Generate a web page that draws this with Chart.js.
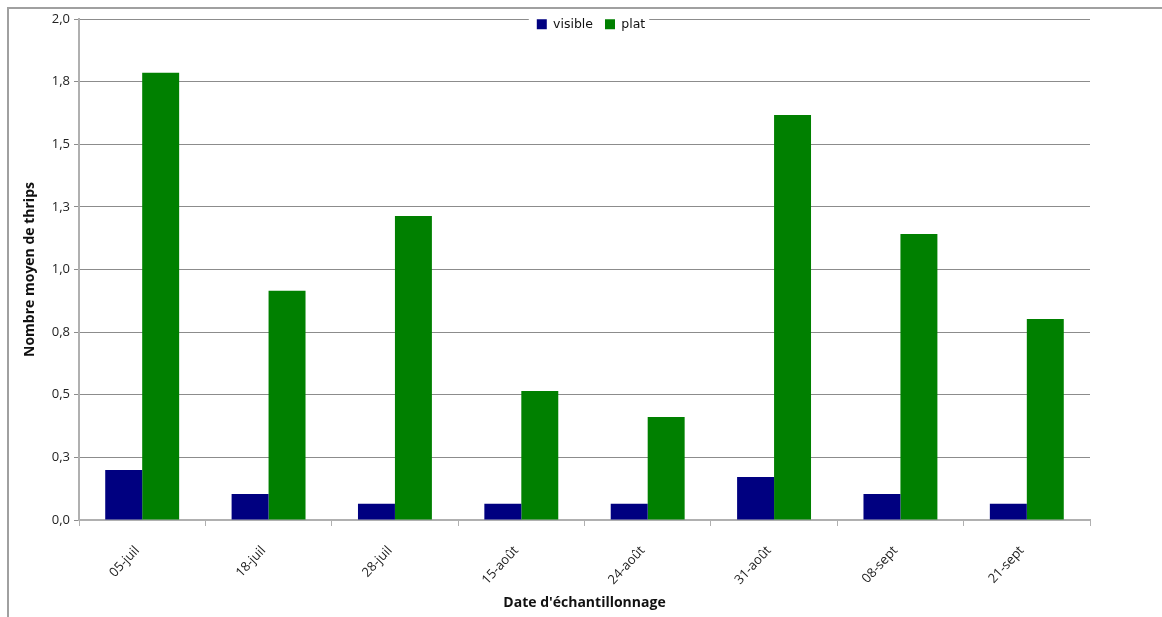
<!DOCTYPE html>
<html lang="fr">
  <head>
    <meta charset="UTF-8" />
    <title>Thrips</title>
    <script src="https://cdn.jsdelivr.net/npm/chart.js"></script>
    <style>
      html, body { margin: 0; padding: 0; background: #fff; }
      #frame {
        position: absolute; left: 7px; top: 7px; right: 0; bottom: 0;
        border-left: 2px solid #a0a0a0; border-top: 2px solid #a0a0a0;
      }
      #chart { position: absolute; left: 0; top: 0; }
    </style>
  </head>
  <body>
    <div id="frame"></div>
    <canvas id="chart" width="1162" height="617"></canvas>
    <script>
      const dates = ["05-juil", "18-juil", "28-juil", "15-août", "24-août", "31-août", "08-sept", "21-sept"];
      const visible = [0.2, 0.104, 0.065, 0.065, 0.065, 0.172, 0.104, 0.065];
      const plat = [1.785, 0.915, 1.214, 0.515, 0.411, 1.617, 1.142, 0.802];
      const yTicks = [0, 0.25, 0.5, 0.75, 1, 1.25, 1.5, 1.75, 2];

      const font = "'Open Sans', 'DejaVu Sans', sans-serif";

      // legend sits on top of the plot area, with a white patch behind it
      const legendOverlay = {
        id: "legendOverlay",
        afterLayout(chart) {
          const lg = chart.legend;
          lg.top = 6;
          lg.bottom = 45;
          lg.left = 79;
          lg.right = 1103;
        },
        afterDraw(chart) {
          const lg = chart.legend;
          const pad = lg.options.labels.padding;
          const lw = lg.lineWidths[0];
          const start = (lg.left + pad + lg.right - lw) / 2;
          const ctx = chart.ctx;
          ctx.save();
          ctx.fillStyle = "#fff";
          ctx.fillRect(start - 8, 16, lw - pad + 12, 16);
          ctx.restore();
          lg.draw();
        },
      };

      new Chart(document.getElementById("chart"), {
        type: "bar",
        data: {
          labels: dates,
          datasets: [
            { label: "visible", data: visible, backgroundColor: "#000080", borderWidth: 0 },
            { label: "plat", data: plat, backgroundColor: "#008000", borderWidth: 0 },
          ],
        },
        options: {
          responsive: false,
          animation: false,
          devicePixelRatio: 1,
          layout: { padding: { left: 22, right: 72, top: 0, bottom: 0 } },
          datasets: { bar: { categoryPercentage: 0.585, barPercentage: 1.0 } },
          plugins: {
            tooltip: { enabled: false },
            legend: {
              position: "top",
              align: "center",
              maxHeight: 19,
              labels: {
                boxWidth: 10,
                boxHeight: 10,
                padding: 12,
                color: "#111",
                font: { family: "'DejaVu Sans', sans-serif", size: 12.5 },
              },
            },
          },
          scales: {
            x: {
              offset: true,
              grid: { display: true, drawOnChartArea: false, offset: true, tickLength: 6, color: "#b0b0b0" },
              border: { color: "#b0b0b0", width: 2 },
              ticks: {
                minRotation: 47,
                maxRotation: 47,
                padding: 17,
                labelOffset: -5,
                color: "#222",
                font: { family: font, size: 13 },
              },
              title: {
                display: true,
                text: "Date d'échantillonnage",
                color: "#111",
                font: { family: font, size: 14, weight: "bold" },
                padding: { top: 0, bottom: 6 },
              },
              afterFit(scale) { scale.height = 97; },
            },
            y: {
              min: 0,
              max: 2,
              afterBuildTicks(scale) {
                scale.ticks = yTicks.map((v) => ({ value: v }));
              },
              grid: { color: "#8c8c8c", tickLength: 5, lineWidth: 1 },
              border: { color: "#b0b0b0", width: 2 },
              ticks: {
                padding: 4,
                color: "#222",
                font: { family: font, size: 13 },
                callback: (v) => v.toFixed(1).replace(".", ","),
              },
              title: {
                display: true,
                text: "Nombre moyen de thrips",
                color: "#111",
                font: { family: font, size: 14, weight: "bold" },
                padding: { top: 0, bottom: 0 },
              },
              afterFit(scale) { scale.width = 57; },
            },
          },
        },
        plugins: [legendOverlay],
      });
    </script>
  </body>
</html>
